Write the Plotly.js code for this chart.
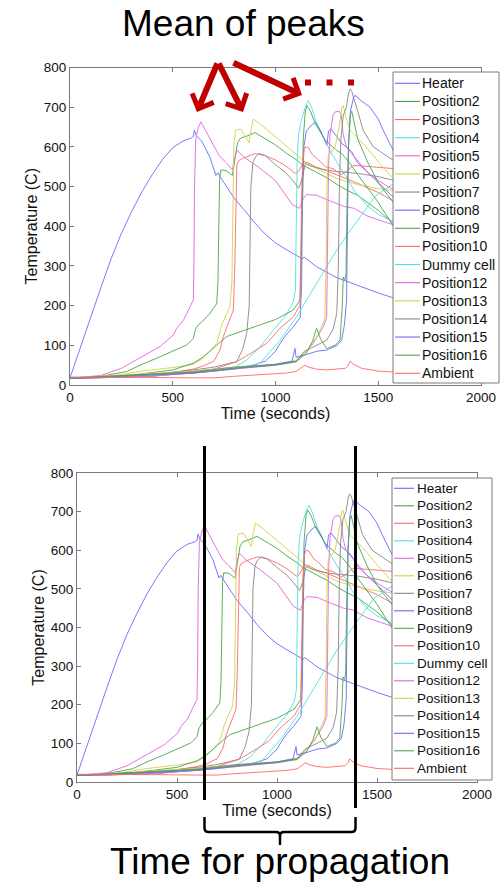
<!DOCTYPE html>
<html><head><meta charset="utf-8">
<script src="https://cdn.plot.ly/plotly-3.0.1.min.js"></script>
<style>html,body{margin:0;padding:0;background:#fff}#chart{width:503px;height:883px}</style>
</head><body><div id="chart"></div>
<script>
// ---------- data ----------
const names = ['Heater','Position2','Position3','Position4','Position5','Position6','Position7','Position8','Position9','Position10','Dummy cell','Position12','Position13','Position14','Position15','Position16','Ambient'];

const tHeater = [0,50,100,150,200,250,300,350,400,450,500,550,590,600,605,615,640,680,710,720,730,760,800,850,900,950,1000,1050,1100,1130,1140,1200,1300,1400,1500,1600,1800,2000];
const yHeater = [18,95,170,245,318,382,437,487,530,568,598,615,622,626,642,628,615,575,528,535,525,500,470,440,408,380,358,342,327,318,322,298,270,250,232,215,190,170];

const tP2 = [0,150,276,350,438,500,568,600,610,625,640,680,714,720,724,728,734,760,790,800,815,830,860,900,950,1000,1050,1100,1130,1200,1250,1300,1350,1400,1500,1600,1800,2000];
const yP2 = [17,22,34,52,71,85,101,117,140,152,158,180,205,260,420,520,542,540,528,560,610,622,627,636,620,605,585,568,555,535,522,505,490,478,440,395,330,280];

const tP3 = [0,200,400,500,600,650,700,730,746,770,795,802,807,812,820,845,879,903,950,1000,1050,1097,1115,1137,1160,1200,1250,1300,1350,1400,1500,1580,1800,2000];
const yP3 = [17,19,27,32,40,48,60,88,122,155,189,300,480,555,565,572,579,583,578,567,552,533,540,562,560,548,540,530,520,508,485,462,400,350];

const tP4 = [0,300,600,800,860,925,989,1050,1087,1097,1101,1105,1112,1125,1145,1160,1175,1200,1250,1300,1350,1383,1450,1500,1580,1800,2000];
const yP4 = [18,22,35,45,63,96,138,175,210,240,400,560,630,665,700,717,700,660,605,560,520,489,450,430,410,340,290];

const tP5 = [0,150,250,324,438,503,519,552,600,603,606,612,625,637,650,677,726,760,790,800,812,850,917,1000,1083,1117,1135,1150,1200,1250,1333,1383,1450,1583,1800,2000];
const yP5 = [17,24,42,63,97,126,143,163,214,300,500,620,650,663,650,625,578,560,542,570,592,573,549,515,454,445,470,480,478,467,450,445,425,402,340,290];

const tP6 = [0,200,350,500,600,640,680,714,738,778,788,792,797,806,830,850,871,880,892,920,1000,1050,1117,1150,1200,1300,1400,1500,1583,1800,2000];
const yP6 = [18,22,35,44,52,65,85,105,151,197,260,420,600,642,645,630,610,640,670,660,625,605,575,560,545,520,505,495,489,440,400];

const tP7 = [0,300,600,700,811,840,860,872,876,880,890,903,920,950,1000,1050,1081,1113,1130,1145,1170,1242,1300,1403,1500,1573,1800,2000];
const yP7 = [17,20,38,45,59,90,130,200,350,500,560,575,583,578,555,535,517,496,520,558,552,542,538,533,525,516,470,430];

const tP8 = [0,400,700,880,950,1000,1022,1050,1087,1120,1127,1131,1138,1150,1175,1194,1220,1242,1250,1258,1270,1300,1323,1346,1371,1400,1500,1580,1800,2000];
const yP8 = [17,22,35,48,60,85,105,125,147,170,250,450,600,640,655,662,640,617,605,640,645,625,608,600,587,560,510,470,390,340];

const tP9 = [0,300,500,600,649,700,762,850,925,1000,1087,1119,1124,1129,1135,1145,1153,1170,1194,1242,1300,1323,1360,1400,1500,1580,1800,2000];
const yP9 = [17,25,38,55,71,95,122,138,151,165,189,214,300,500,620,690,704,690,658,617,590,583,560,530,460,395,320,270];

const tP10 = [0,400,700,811,880,957,1022,1087,1119,1124,1129,1138,1145,1160,1180,1210,1242,1280,1320,1350,1378,1420,1500,1580,1800,2000];
const yP10 = [17,22,40,59,80,105,143,172,201,350,520,590,600,598,580,567,550,545,530,540,553,552,548,545,510,470];

const tDummy = [0,300,600,800,925,960,1022,1100,1176,1242,1298,1355,1420,1484,1565,1650,1800,2000];
const yDummy = [18,20,30,40,55,75,113,170,234,290,340,383,430,475,504,512,500,480];

const tP12 = [0,300,600,800,1000,1100,1140,1184,1233,1249,1253,1258,1265,1280,1290,1310,1320,1330,1345,1360,1400,1450,1500,1580,1800,2000];
const yP12 = [17,20,30,40,50,60,80,105,147,172,350,550,630,680,688,690,680,630,600,590,565,535,515,490,420,370];

const tP13 = [0,600,800,1000,1100,1150,1200,1240,1246,1250,1256,1290,1310,1323,1330,1340,1363,1427,1508,1573,1800,2000];
const yP13 = [18,35,45,52,62,85,120,165,300,500,575,600,650,700,704,680,641,608,558,520,450,400];

const tP14 = [0,600,800,1000,1100,1140,1200,1249,1280,1298,1306,1311,1318,1330,1345,1355,1363,1371,1400,1427,1476,1573,1800,2000];
const yP14 = [17,33,45,52,60,85,100,113,140,180,300,500,620,680,700,733,746,740,690,641,600,566,480,420];

const tP15 = [0,600,800,1000,1080,1095,1100,1140,1200,1249,1300,1322,1335,1346,1350,1355,1365,1380,1387,1420,1460,1500,1525,1573,1800,2000];
const yP15 = [17,30,42,52,60,92,70,75,85,88,100,113,150,214,400,600,690,725,730,715,700,670,641,591,450,380];

const tP16 = [0,600,800,1000,1100,1150,1180,1200,1220,1249,1290,1314,1325,1330,1338,1343,1348,1355,1363,1371,1400,1450,1500,1573,1800,2000];
const yP16 = [17,32,42,50,58,80,110,143,115,92,100,113,200,272,265,280,450,600,680,690,620,560,510,460,380,330];

const tAmb = [0,200,400,600,700,800,900,1000,1050,1100,1130,1143,1160,1200,1250,1300,1340,1355,1363,1380,1420,1500,1600,1800,2000];
const yAmb = [20,20,19,18,18,22,25,28,30,34,45,50,45,40,38,40,42,50,60,52,42,35,32,30,30];

const xTicks = [0,500,1000,1500,2000];
const yTicks = [0,100,200,300,400,500,600,700,800];

// ---------- styling ----------
const BLUE='rgb(105,105,255)', GREEN='rgb(75,165,75)', RED='rgb(255,105,105)', CYAN='rgb(80,225,225)',
      MAG='rgb(225,100,225)', YEL='rgb(210,210,70)', GRAY='rgb(135,135,135)';
const colors = [BLUE,GREEN,RED,CYAN,MAG,YEL,GRAY,BLUE,GREEN,RED,CYAN,MAG,YEL,GRAY,BLUE,GREEN,RED];
const seriesT = [tHeater,tP2,tP3,tP4,tP5,tP6,tP7,tP8,tP9,tP10,tDummy,tP12,tP13,tP14,tP15,tP16,tAmb];
const seriesY = [yHeater,yP2,yP3,yP4,yP5,yP6,yP7,yP8,yP9,yP10,yDummy,yP12,yP13,yP14,yP15,yP16,yAmb];

const W=503, H=883;
const X = p => p/W, Y = p => 1 - p/H;
const FONT = '"Liberation Sans", Arial, Helvetica, sans-serif';
const AX = '#7a7a7a';

const traces = [];
[['x','y'],['x2','y2']].forEach(([xa,ya]) => {
  names.forEach((n,i) => traces.push({
    type:'scatter', mode:'lines', x:seriesT[i], y:seriesY[i], name:n,
    xaxis:xa, yaxis:ya, line:{color:colors[i], width:0.9}, showlegend:false, hoverinfo:'skip'
  }));
});

const axBase = {showline:true, linecolor:AX, linewidth:1, mirror:'allticks', ticks:'inside', ticklen:4,
  tickcolor:AX, showgrid:false, zeroline:false, fixedrange:true,
  tickfont:{family:FONT, size:13.5, color:'#111'}};
const titleFont = {family:FONT, size:16, color:'#111'};

const shapes = [], annotations = [];

function legendBox(box, y0, dy, lx0, lx1, tx, fs) {
  shapes.push({type:'rect', xref:'paper', yref:'paper', x0:X(box[0]), x1:X(box[2]), y0:Y(box[3]), y1:Y(box[1]),
    line:{color:AX, width:1}, fillcolor:'#ffffff', layer:'above'});
  names.forEach((n,i) => {
    const yy = y0 + i*dy;
    shapes.push({type:'line', xref:'paper', yref:'paper', x0:X(lx0), x1:X(lx1), y0:Y(yy), y1:Y(yy),
      line:{color:colors[i], width:1.1}, layer:'above'});
    annotations.push({xref:'paper', yref:'paper', x:X(tx), y:Y(yy), xanchor:'left', yanchor:'middle',
      text:n, showarrow:false, font:{family:FONT, size:fs, color:'#111'}, borderpad:0});
  });
}
legendBox([393,72,499,383], 83.3, 18.125, 395, 420, 421, 14);
legendBox([392,478,492,780], 488.3, 17.5, 394, 414, 416, 13.5);

// red arrows
const RED_D = '#c00000';
[[197,112,218,62],[243,112,218,62],[302,95,232,62]].forEach(([x,y,tx,ty]) => {
  annotations.push({xref:'paper', yref:'paper', x:X(x), y:Y(y), ax:tx-x, ay:ty-y, axref:'pixel', ayref:'pixel',
    text:'', showarrow:true, arrowhead:4, arrowsize:0.75, arrowwidth:6, arrowcolor:RED_D, standoff:0});
});
shapes.push({type:'line', xref:'paper', yref:'paper', x0:X(305), x1:X(355), y0:Y(82.5), y1:Y(82.5),
  line:{color:RED_D, width:6, dash:'6px,15.5px'}, layer:'above'});

// black propagation lines + bracket
shapes.push({type:'line', xref:'paper', yref:'paper', x0:X(204.5), x1:X(204.5), y0:Y(446), y1:Y(800), line:{color:'#000', width:3}, layer:'above'});
shapes.push({type:'line', xref:'paper', yref:'paper', x0:X(355.5), x1:X(355.5), y0:Y(446), y1:Y(808), line:{color:'#000', width:3}, layer:'above'});
const P = (x,y) => X(x)+','+Y(y);
const bracket = 'M '+P(204.5,817)+' L '+P(204.5,828)+' Q '+P(204.5,832)+' '+P(208.5,832)+' L '+P(276,832)+
  ' Q '+P(280,832)+' '+P(280,836)+' L '+P(280,845)+' M '+P(280,836)+' Q '+P(280,832)+' '+P(284,832)+
  ' L '+P(351.5,832)+' Q '+P(355.5,832)+' '+P(355.5,828)+' L '+P(355.5,817);
shapes.push({type:'path', xref:'paper', yref:'paper', path:bracket, line:{color:'#000', width:2.5}, layer:'above'});

annotations.push({xref:'paper', yref:'paper', x:X(243.5), y:Y(23), xanchor:'center', yanchor:'middle',
  text:'Mean of peaks', showarrow:false, font:{family:FONT, size:37, color:'#000'}});
annotations.push({xref:'paper', yref:'paper', x:X(280), y:Y(861), xanchor:'center', yanchor:'middle',
  text:'Time for propagation', showarrow:false, font:{family:FONT, size:37, color:'#000'}});

const layout = {
  width:W, height:H, margin:{l:0,r:0,t:0,b:0}, paper_bgcolor:'#fff', plot_bgcolor:'#fff', showlegend:false,
  xaxis:Object.assign({}, axBase, {domain:[X(70),X(481)], range:[0,2000], tickvals:xTicks, anchor:'y',
    title:{text:'Time (seconds)', font:titleFont, standoff:2}}),
  yaxis:Object.assign({}, axBase, {domain:[Y(385),Y(67.5)], range:[0,800], tickvals:yTicks, anchor:'x',
    title:{text:'Temperature (C)', font:titleFont, standoff:2}}),
  xaxis2:Object.assign({}, axBase, {domain:[X(77),X(477)], range:[0,2000], tickvals:xTicks, anchor:'y2',
    title:{text:'Time (seconds)', font:titleFont, standoff:2}}),
  yaxis2:Object.assign({}, axBase, {domain:[Y(782),Y(473)], range:[0,800], tickvals:yTicks, anchor:'x2',
    title:{text:'Temperature (C)', font:titleFont, standoff:2}}),
  shapes:shapes, annotations:annotations
};
Plotly.newPlot('chart', traces, layout, {staticPlot:true});
</script>
</body></html>
